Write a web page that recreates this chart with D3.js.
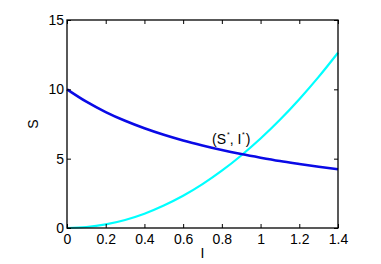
<!DOCTYPE html>
<html><head><meta charset="utf-8">
<script src="https://cdnjs.cloudflare.com/ajax/libs/d3/7.8.5/d3.min.js"></script>
<style>body{margin:0;background:#fff}svg{display:block}text{font-family:"Liberation Sans",Arial,sans-serif}</style>
</head><body>
<script>
const iValues = [0,0.1,0.2,0.3,0.4,0.5,0.6,0.7,0.8,0.9,1.0,1.1,1.2,1.3,1.4];
const sNullcline = [10,9.11,8.36,7.73,7.19,6.72,6.31,5.95,5.62,5.33,5.07,4.83,4.62,4.42,4.24];
const iNullcline = [0,0.07,0.26,0.58,1.03,1.62,2.32,3.16,4.13,5.23,6.45,7.8,9.29,10.9,12.64];
const xTicks = [0,0.2,0.4,0.6,0.8,1,1.2,1.4];
const yTicks = [0,5,10,15];

const W=381,H=264, L=67,R=338,T=20,B=228;
const svg=d3.select("body").append("svg").attr("width",W).attr("height",H);
const x=d3.scaleLinear().domain([0,1.4]).range([L,R]);
const y=d3.scaleLinear().domain([0,15]).range([B,T]);

const line=d3.line().x((d,i)=>x(iValues[i])).y(d=>y(d)).curve(d3.curveMonotoneX);
const plot=svg.append("g");
plot.append("path").datum(iNullcline).attr("d",line).attr("fill","none").attr("stroke","#00ffff").attr("stroke-width",2.2);
plot.append("path").datum(sNullcline).attr("d",line).attr("fill","none").attr("stroke","#0a0ae6").attr("stroke-width",2.6);

const fmt=d=>String(d);
function ax(g){g.selectAll(".domain").remove();g.selectAll("line").attr("stroke","#000");}
svg.append("g").attr("transform",`translate(0,${B})`).call(d3.axisBottom(x).tickValues(xTicks).tickFormat(fmt).tickSizeInner(-4).tickSizeOuter(0).tickPadding(6)).call(ax)
  .selectAll("text").attr("font-size",14).attr("fill","#000").attr("font-family","Liberation Sans, Arial, sans-serif");
svg.append("g").attr("transform",`translate(0,${T})`).call(d3.axisTop(x).tickValues(xTicks).tickFormat("").tickSizeInner(-4).tickSizeOuter(0)).call(ax);
svg.append("g").attr("transform",`translate(${L},0)`).call(d3.axisLeft(y).tickValues(yTicks).tickFormat(fmt).tickSizeInner(-4).tickSizeOuter(0).tickPadding(3)).call(ax)
  .selectAll("text").attr("font-size",14).attr("fill","#000").attr("font-family","Liberation Sans, Arial, sans-serif");
svg.append("g").attr("transform",`translate(${R},0)`).call(d3.axisRight(y).tickValues(yTicks).tickFormat("").tickSizeInner(-4).tickSizeOuter(0)).call(ax);

svg.append("rect").attr("x",L).attr("y",T).attr("width",R-L).attr("height",B-T).attr("fill","none").attr("stroke","#000").attr("stroke-width",1.3);

svg.append("text").attr("x",(L+R)/2).attr("y",258).attr("text-anchor","middle").attr("font-size",14).text("I");
svg.append("text").attr("transform",`translate(38,${(T+B)/2}) rotate(-90)`).attr("text-anchor","middle").attr("font-size",14).text("S");

const ann=svg.append("text").attr("x",212).attr("y",144).attr("font-size",14);
ann.append("tspan").text("(S");
ann.append("tspan").attr("font-size",7).attr("dx",1).attr("dy",-7).text("*");
ann.append("tspan").attr("dy",7).text(", I");
ann.append("tspan").attr("font-size",7).attr("dx",0.5).attr("dy",-7).text("*");
ann.append("tspan").attr("dx",1).attr("dy",7).text(")");
</script>
</body></html>
